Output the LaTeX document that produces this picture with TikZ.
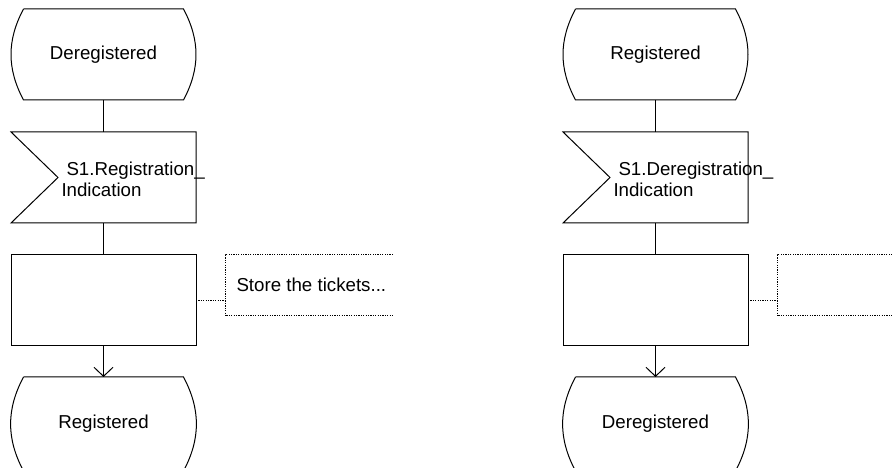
\documentclass[tikz,border=0pt]{standalone}
\usepackage{fontspec}
\setmainfont{Liberation Sans}
\usetikzlibrary{arrows.meta,positioning}
\tikzset{
  statebox/.style={minimum width=160pt,minimum height=91pt,inner sep=0pt,outer sep=0pt},
  inbox/.style={minimum width=185pt,minimum height=91pt,inner sep=0pt,outer sep=0pt},
  taskbox/.style={draw,minimum width=185pt,minimum height=91pt,inner sep=0pt,outer sep=0pt},
  notebox/.style={minimum width=168pt,minimum height=61pt,inner sep=0pt,outer sep=0pt},
  noteline/.style={line width=1pt,dash pattern=on 1.2pt off 1.2pt},
  boxtext/.style={anchor=west,inner sep=0pt,align=left}
}
\newcommand{\stateoutline}[1]{\draw (#1.north west) -- (#1.north east) to[bend left=28] (#1.south east) -- (#1.south west) to[bend left=28] (#1.north west);}
\newcommand{\inputoutline}[1]{\draw (#1.north west) -- (#1.north east) -- (#1.south east) -- (#1.south west) -- ([xshift=47pt]#1.west) -- cycle;}
\newcommand{\noteoutline}[1]{\draw[noteline] (#1.north east) -- (#1.north west) -- (#1.south west) -- (#1.south east);}
\begin{document}
\begin{tikzpicture}[x=1pt,y=1pt,line width=1pt,>={Straight Barb[length=9pt,width=19pt]},font=\fontsize{18.7}{21}\selectfont,node distance=32pt]
\useasboundingbox (0,0) rectangle (892,468);
% left: Deregistered -> Registered
\node[statebox] (dereg) at (103.5,413.5) {Deregistered};
\node[inbox,below=of dereg] (regind) {};
\node[taskbox,below=of regind] (store) {};
\node[statebox,minimum height=94pt,below=31pt of store] (reg) {Registered};
\node[notebox,anchor=north west] (storenote) at ([xshift=29pt]store.north east) {};
\node[boxtext] (regindtext) at ([xshift=50pt,yshift=-2pt]regind.west) {\hspace*{5pt}S1.Registration\_\\Indication};
\node[boxtext] (storetext) at ([xshift=11pt,yshift=1pt]storenote.west) {Store the tickets...};
\stateoutline{dereg} \stateoutline{reg}
\inputoutline{regind}
\noteoutline{storenote}
\draw (dereg) -- (regind);
\draw (regind) -- (store);
\draw[->] (store) -- (reg);
\draw[noteline] (store.east) -- (store.east -| storenote.west);
% right: Registered -> Deregistered
\node[statebox] (reg2) at (655.5,413.5) {Registered};
\node[inbox,below=of reg2] (deregind) {};
\node[taskbox,below=of deregind] (clear) {};
\node[statebox,minimum height=94pt,below=31pt of clear] (dereg2) {Deregistered};
\node[notebox,anchor=north west] (clearnote) at ([xshift=29pt]clear.north east) {};
\node[boxtext] (deregindtext) at ([xshift=50pt,yshift=-2pt]deregind.west) {\hspace*{5pt}S1.Deregistration\_\\Indication};
\stateoutline{reg2} \stateoutline{dereg2}
\inputoutline{deregind}
\noteoutline{clearnote}
\draw (reg2) -- (deregind);
\draw (deregind) -- (clear);
\draw[->] (clear) -- (dereg2);
\draw[noteline] (clear.east) -- (clear.east -| clearnote.west);
\end{tikzpicture}
\end{document}
